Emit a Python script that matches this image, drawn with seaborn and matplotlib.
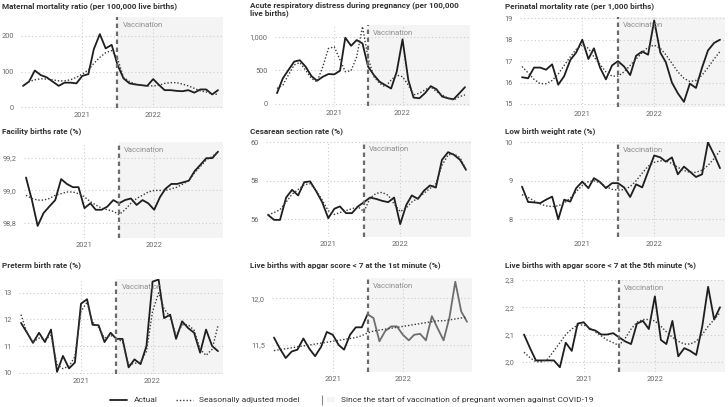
import pandas as pd
import matplotlib
matplotlib.use("Agg")
import matplotlib.pyplot as plt
import matplotlib.dates as mdates
from matplotlib.lines import Line2D
from matplotlib.patches import Patch
from matplotlib.legend_handler import HandlerTuple
import seaborn as sns

# ------------------------
# DATA
# ------------------------

first_month = "2020-03-01"
last_month = "2022-12-01"
vaccination_start = "2021-07-01"
year_ticks = ["2021-01-01", "2022-01-01"]
year_labels = ["2021", "2022"]

titles = [
    "Maternal mortality ratio (per 100,000 live births)",
    "Acute respiratory distress during pregnancy (per 100,000\nlive births)",
    "Perinatal mortality rate (per 1,000 births)",
    "Facility births rate (%)",
    "Cesarean section rate (%)",
    "Low birth weight rate (%)",
    "Preterm birth rate (%)",
    "Live births with apgar score < 7 at the 1st minute (%)",
    "Live births with apgar score < 7 at the 5th minute (%)",
]

maternal_actual = [60, 72, 103, 90, 84, 72, 60, 69, 69, 67, 88, 93, 163, 205, 165, 175, 119,
                   81, 67, 64, 62, 60, 79, 62, 48, 48, 46, 45, 48, 41, 50, 50, 36, 48]
maternal_model = [60, 72, 77, 80, 79, 77, 74, 74, 77, 84, 93, 105, 123, 140, 153, 159, 137,
                  84, 72, 65, 62, 60, 60, 62, 67, 69, 69, 65, 60, 53, 46, 43, 38, 36]

ards_actual = [160, 380, 505, 630, 650, 555, 415, 345, 405, 445, 440, 495, 985, 865, 950, 900,
               555, 430, 330, 280, 230, 480, 960, 355, 95, 85, 160, 265, 220, 110, 85, 70, 160, 250]
ards_model = [230, 280, 430, 580, 615, 505, 380, 330, 555, 825, 850, 655, 480, 495, 700, 1150,
              680, 405, 305, 255, 355, 430, 405, 280, 135, 160, 210, 255, 185, 135, 85, 60, 110, 135]

perinatal_actual = [16.25, 16.2, 16.7, 16.7, 16.6, 16.85, 15.9, 16.3, 17.05, 17.4, 18.0, 17.1,
                    17.6, 16.7, 16.15, 16.8, 17.0, 16.75, 16.35, 17.25, 17.45, 17.3, 18.9, 17.4,
                    16.95, 16.0, 15.5, 15.1, 15.95, 15.75, 16.7, 17.5, 17.85, 18.0]
perinatal_model = [16.75, 16.45, 16.15, 15.95, 15.95, 16.1, 16.4, 16.8, 17.2, 17.55, 17.75, 17.6,
                   17.2, 16.85, 16.5, 16.3, 16.3, 16.5, 16.8, 17.1, 17.4, 17.65, 17.75, 17.6,
                   17.3, 16.9, 16.5, 16.2, 16.05, 16.1, 16.35, 16.7, 17.1, 17.45]

facility_actual = [99.08, 98.94, 98.78, 98.86, 98.90, 98.94, 99.07, 99.04, 99.02, 99.02, 98.89,
                   98.92, 98.88, 98.88, 98.90, 98.94, 98.92, 98.94, 98.95, 98.91, 98.94, 98.92,
                   98.88, 98.96, 99.01, 99.04, 99.04, 99.05, 99.06, 99.12, 99.16, 99.20, 99.20, 99.24]
facility_model = [98.97, 98.95, 98.94, 98.94, 98.95, 98.97, 98.98, 98.99, 98.99, 98.98, 98.96,
                  98.93, 98.91, 98.89, 98.88, 98.87, 98.85, 98.88, 98.92, 98.95, 98.97, 98.99,
                  99.00, 99.00, 99.00, 99.01, 99.02, 99.04, 99.06, 99.11, 99.15, 99.19, 99.21, 99.24]

cesarean_actual = [56.23, 55.97, 55.97, 57.13, 57.53, 57.24, 57.93, 57.97, 57.45, 56.89, 56.06,
                   56.55, 56.67, 56.32, 56.32, 56.67, 56.89, 57.13, 57.06, 56.96, 56.89, 57.13,
                   55.75, 56.75, 57.24, 57.06, 57.48, 57.76, 57.65, 59.09, 59.49, 59.35, 59.09, 58.57]
cesarean_model = [56.23, 56.35, 56.5, 56.9, 57.3, 57.55, 57.8, 57.85, 57.5, 57.0, 56.45, 56.25,
                  56.35, 56.45, 56.55, 56.65, 56.4, 57.1, 57.35, 57.4, 57.25, 56.8, 56.4, 56.6,
                  56.9, 57.1, 57.35, 57.6, 57.85, 58.8, 59.35, 59.4, 59.2, 58.6]

lbw_actual = [8.85, 8.45, 8.44, 8.42, 8.51, 8.59, 8.0, 8.51, 8.46, 8.81, 8.98, 8.81, 9.07, 8.97,
              8.81, 8.94, 8.94, 8.83, 8.58, 8.91, 8.83, 9.24, 9.66, 9.61, 9.50, 9.61, 9.17, 9.37,
              9.24, 9.10, 9.17, 10.0, 9.68, 9.33]
lbw_model = [8.64, 8.57, 8.48, 8.40, 8.35, 8.33, 8.35, 8.42, 8.55, 8.72, 8.88, 8.98, 9.0, 8.95,
             8.85, 8.78, 8.76, 8.77, 8.85, 9.0, 9.2, 9.38, 9.48, 9.52, 9.52, 9.45, 9.35, 9.27,
             9.22, 9.22, 9.28, 9.4, 9.58, 9.78]

preterm_actual = [11.87, 11.5, 11.12, 11.5, 11.15, 11.62, 10.03, 10.63, 10.16, 10.38, 12.59,
                  12.76, 11.8, 11.78, 11.15, 11.5, 11.27, 11.27, 10.2, 10.5, 10.32, 11.0, 13.42,
                  13.5, 12.05, 12.18, 11.27, 11.93, 11.68, 11.5, 10.75, 11.62, 11.0, 10.81]
preterm_model = [12.18, 11.5, 11.15, 11.3, 11.25, 11.4, 10.3, 10.15, 10.25, 10.6, 12.3, 12.65,
                 11.9, 11.7, 11.3, 11.4, 11.3, 11.15, 10.3, 10.35, 10.4, 10.8, 12.3, 13.0, 12.4,
                 12.1, 11.4, 11.8, 11.8, 11.6, 10.88, 10.65, 10.88, 11.77]

apgar1_actual = [11.58, 11.46, 11.36, 11.43, 11.45, 11.57, 11.46, 11.38, 11.48, 11.64, 11.61,
                 11.5, 11.45, 11.61, 11.69, 11.69, 11.83, 11.79, 11.54, 11.65, 11.70, 11.70,
                 11.61, 11.55, 11.61, 11.62, 11.55, 11.81, 11.68, 11.55, 11.80, 12.18, 11.86, 11.75]
apgar1_model = [11.44, 11.45, 11.46, 11.47, 11.48, 11.49, 11.5, 11.51, 11.52, 11.53, 11.54,
                11.55, 11.56, 11.57, 11.58, 11.6, 11.63, 11.65, 11.66, 11.67, 11.68, 11.69,
                11.7, 11.71, 11.72, 11.73, 11.74, 11.75, 11.76, 11.76, 11.77, 11.78, 11.79, 11.80]

apgar5_actual = [2.10, 2.05, 2.005, 2.005, 2.005, 2.005, 1.98, 2.07, 2.04, 2.14, 2.145, 2.12,
                 2.115, 2.10, 2.10, 2.105, 2.09, 2.075, 2.065, 2.14, 2.15, 2.12, 2.24, 2.08,
                 2.065, 2.15, 2.02, 2.05, 2.04, 2.025, 2.13, 2.275, 2.155, 2.20]
apgar5_model = [2.035, 2.015, 2.0, 2.0, 2.01, 2.04, 2.07, 2.1, 2.12, 2.135, 2.135, 2.125, 2.11,
                2.095, 2.08, 2.07, 2.06, 2.085, 2.12, 2.145, 2.155, 2.155, 2.15, 2.13, 2.11,
                2.09, 2.075, 2.065, 2.065, 2.075, 2.1, 2.13, 2.155, 2.18]

actual_series = [maternal_actual, ards_actual, perinatal_actual, facility_actual, cesarean_actual,
                 lbw_actual, preterm_actual, apgar1_actual, apgar5_actual]
model_series = [maternal_model, ards_model, perinatal_model, facility_model, cesarean_model,
                lbw_model, preterm_model, apgar1_model, apgar5_model]

y_ticks = [
    [0, 100, 200],
    [0, 500, 1000],
    [15, 16, 17, 18, 19],
    [98.8, 99.0, 99.2],
    [56, 58, 60],
    [8, 9, 10],
    [10, 11, 12, 13],
    [11.5, 12.0],
    [2.0, 2.1, 2.2, 2.3],
]
y_tick_labels = [
    ["0", "100", "200"],
    ["0", "500", "1,000"],
    ["15", "16", "17", "18", "19"],
    ["98,8", "99,0", "99,2"],
    ["56", "58", "60"],
    ["8", "9", "10"],
    ["10", "11", "12", "13"],
    ["11,5", "12,0"],
    ["2,0", "2,1", "2,2", "2,3"],
]

# ------------------------
# LAYOUT / STYLE
# ------------------------

W, H = 728, 407
y_limits = [(-2, 253), (-30, 1174), (14.86, 19.06), (98.705, 99.30), (55.08, 60.07),
            (7.54, 10.01), (9.95, 13.52), (11.21, 12.22), (1.9625, 2.298)]
# first point px, last point px, top px, bottom px
panel_px = [(23, 218, 17, 108), (277, 465, 25, 106), (522, 720, 17, 107),
            (26, 218, 142, 238), (268, 466, 141, 237), (522, 720, 142, 237),
            (21, 218, 279, 374), (274, 467, 278, 372), (524, 720, 280, 372)]
title_px = [(2, 6), (250, 1), (505, 6), (2, 131), (250, 131), (505, 131),
            (2, 265), (250, 265), (505, 265)]

PAD_L, PAD_R = 12, 25
LINE_COLOR = "#1e1e1e"
MODEL_COLOR = "#3a3a3a"
SHADE = "#f4f4f4"
GRID = "#cccccc"

sns.set_theme(style="white")
plt.rcParams["font.family"] = ["Liberation Sans Narrow", "Roboto", "DejaVu Sans"]

months = pd.date_range(first_month, last_month, freq="MS")
vac = pd.Timestamp(vaccination_start)
span_days = (months[-1] - months[0]).days
x_left = months[0] - pd.Timedelta(days=PAD_L)
x_right = months[-1] + pd.Timedelta(days=PAD_R)


def axes_rect(first_px, last_px, top_px, bottom_px):
    ppd = (last_px - first_px) / span_days
    left = first_px - PAD_L * ppd
    right = last_px + PAD_R * ppd
    return [left / W, 1 - bottom_px / H, (right - left) / W, (bottom_px - top_px) / H]


def draw_panel(ax, actual, model, ylim, ticks, labels, gray_after=False):
    ax.axvspan(vac, x_right, color=SHADE, lw=0, zorder=0)
    ax.set_axisbelow(True)
    ax.grid(True, linestyle=(0, (1, 2.2)), color=GRID, linewidth=0.8)

    if gray_after:
        cut = list(months).index(vac)
        sns.lineplot(x=months[:cut + 1], y=actual[:cut + 1], ax=ax, color=LINE_COLOR, linewidth=1.3)
        sns.lineplot(x=months[cut:], y=actual[cut:], ax=ax, color="#6e6e6e", linewidth=1.3)
    else:
        sns.lineplot(x=months, y=actual, ax=ax, color=LINE_COLOR, linewidth=1.3)
    sns.lineplot(x=months, y=model, ax=ax, color=MODEL_COLOR, linewidth=1.0,
                 linestyle=(0, (1, 1.4)))

    ax.axvline(vac, color="#6b6b6b", linewidth=1.6, linestyle=(0, (2, 1.6)), zorder=3)
    ax.annotate("Vaccination", xy=(mdates.date2num(vac), 1), xycoords=("data", "axes fraction"),
                xytext=(5, -8), textcoords="offset pixels", fontsize=5.5, color="#8c8c8c",
                ha="left", va="center")

    ax.set_xlim(x_left, x_right)
    ax.set_ylim(*ylim)
    ax.set_xticks([pd.Timestamp(t) for t in year_ticks])
    ax.set_xticklabels(year_labels)
    ax.set_yticks(ticks)
    ax.set_yticklabels(labels)
    ax.tick_params(axis="both", length=0, labelsize=5.3, labelcolor="#666666")
    ax.tick_params(axis="y", pad=5)
    ax.tick_params(axis="x", pad=3)
    ax.set_xlabel("")
    ax.set_ylabel("")
    sns.despine(ax=ax, left=True, bottom=True)


fig = plt.figure(figsize=(W / 100, H / 100), dpi=100)

for i in range(9):
    ax = fig.add_axes(axes_rect(*panel_px[i]))
    draw_panel(ax, actual_series[i], model_series[i], y_limits[i], y_ticks[i],
               y_tick_labels[i], gray_after=(i == 7))
    tx, ty = title_px[i]
    fig.text(tx / W, 1 - ty / H, titles[i], ha="left", va="top" if i == 1 else "center",
             fontsize=5.9, fontweight="bold", color="#333333", linespacing=1.1)

handles = [
    Line2D([], [], color=LINE_COLOR, linewidth=1.3),
    Line2D([], [], color=MODEL_COLOR, linewidth=1.0, linestyle=(0, (1, 1.4))),
    (Line2D([], [], marker="|", linestyle="none", color="#888888", markersize=7, markeredgewidth=0.8),
     Patch(facecolor=SHADE, edgecolor="none")),
]
legend_labels = ["Actual", "Seasonally adjusted model",
                 "Since the start of vaccination of pregnant women against COVID-19"]
fig.legend(handles, legend_labels, loc="center", bbox_to_anchor=(352 / W, 1 - 400 / H),
           ncol=3, frameon=False, prop={"family": ["Roboto", "DejaVu Sans"], "size": 6},
           handlelength=2.0, columnspacing=2.2, handletextpad=0.8, labelcolor="#333333",
           handler_map={tuple: HandlerTuple(ndivide=None, pad=0.2)})

fig.savefig("out.png", dpi=100)
